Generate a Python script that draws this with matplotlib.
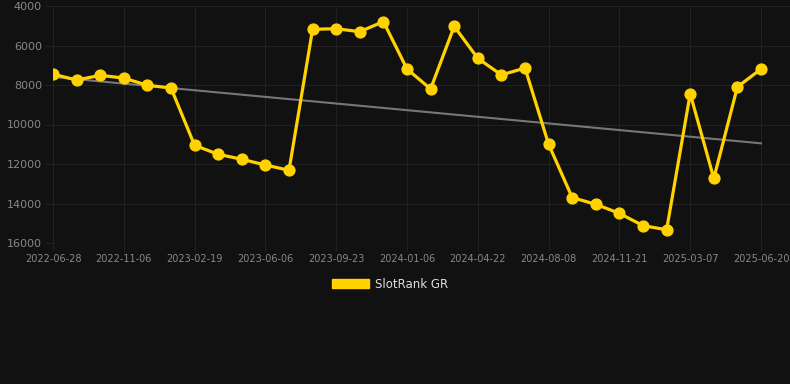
import numpy as np
import matplotlib
matplotlib.use('Agg')
import matplotlib.pyplot as plt
from matplotlib.patches import Patch

# Rank values (lower rank = better, axis inverted)
rank = [7450, 7750, 7510, 7650, 8015, 8150, 11055, 11510, 11760, 12050, 12320,
        5180, 5150, 5300, 4790, 7190, 8200, 5030, 6650, 7490, 7140, 11000,
        13700, 14040, 14500, 15120, 15330, 8440, 12730, 8100, 7190]
tick_labels = ['2022-06-28', '2022-11-06', '2023-02-19', '2023-06-06', '2023-09-23',
               '2024-01-06', '2024-04-22', '2024-08-08', '2024-11-21', '2025-03-07',
               '2025-06-20']
y_ticks = [4000, 6000, 8000, 10000, 12000, 14000, 16000]

bg = '#111111'
grid_c = '#212121'
tick_c = '#888888'
yellow = '#FFD200'

x = np.arange(len(rank))
slope, icpt = np.polyfit(x, rank, 1)

fig = plt.figure(figsize=(7.9, 3.84), dpi=100, facecolor=bg)
ax = fig.add_axes([53 / 790, 1 - 243 / 384, 737 / 790, 237 / 384], facecolor=bg)

ax.plot(x, slope * x + icpt, color='#777777', lw=1.5, zorder=2)
ax.plot(x, rank, color=yellow, lw=2.3, marker='o', ms=7.8, zorder=3)

ax.set_ylim(16000, 4000)
ax.set_xlim(0, 737 / 23.6)
ax.set_yticks(y_ticks)
ax.set_yticklabels([str(v) for v in y_ticks])
ax.set_xticks(x[::3])
ax.set_xticklabels(tick_labels)

ax.grid(True, color=grid_c, lw=0.8)
ax.set_axisbelow(True)
for s in ax.spines.values():
    s.set_visible(False)
ax.tick_params(axis='y', colors=grid_c, labelcolor=tick_c, labelsize=8, length=6, width=0.8, pad=2)
ax.tick_params(axis='x', colors=grid_c, labelcolor=tick_c, labelsize=7, length=6, width=0.8, pad=2)

leg = fig.legend(handles=[Patch(color=yellow, label='SlotRank GR')],
                 loc='center', bbox_to_anchor=(390 / 790, 1 - 284 / 384),
                 frameon=False, fontsize=8.5, handlelength=3.2, handleheight=0.9,
                 handletextpad=0.5)
for t in leg.get_texts():
    t.set_color('#dddddd')

fig.savefig('out.png', dpi=100, facecolor=bg)
